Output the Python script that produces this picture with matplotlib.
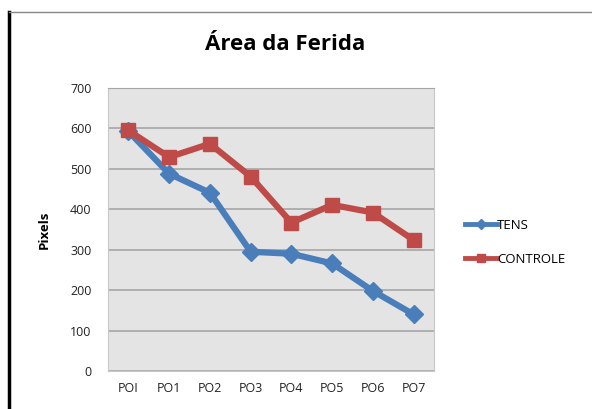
import matplotlib
matplotlib.use("Agg")
import matplotlib.pyplot as plt
from matplotlib.lines import Line2D

# wound area per post-op day
dias = ["POI", "PO1", "PO2", "PO3", "PO4", "PO5", "PO6", "PO7"]
tens = [593, 488, 441, 295, 290, 266, 198, 140]
controle = [595, 529, 562, 481, 367, 411, 392, 324]

plt.rcParams['font.family'] = ['Open Sans', 'DejaVu Sans']

fig = plt.figure(figsize=(5.92, 4.09), dpi=100)
ax = fig.add_axes([108/592, 1 - 371/409, 326/592, 283/409])
ax.set_facecolor("#e4e4e4")

x = range(len(dias))
ax.plot(x, tens, color="#4a7ebb", lw=4.5, marker="D", ms=9, label="TENS", zorder=3)
ax.plot(x, controle, color="#be4b48", lw=4.5, marker="s", ms=10, label="CONTROLE", zorder=3)

ax.set_xlim(-0.5, len(dias) - 0.5)
ax.set_ylim(0, 700)
ax.set_yticks(range(0, 701, 100))
ax.set_xticks(list(x))
ax.set_xticklabels(dias)
ax.yaxis.grid(True, color="#a6a6a6", lw=1.2)
ax.set_axisbelow(True)
ax.tick_params(length=0, labelsize=9, colors="#222222", pad=8)
ax.tick_params(axis="y", pad=12)
for s in ax.spines.values():
    s.set_color("#c8c8c8")
ax.spines["top"].set_color("#a6a6a6")

ax.set_ylabel("Pixels", fontsize=9.5, fontweight="bold", labelpad=14)
fig.text(285/592, 1 - 45/409, "Área da Ferida", ha="center", va="center",
         fontsize=16, fontweight="bold")

leg = ax.legend(loc="center left", bbox_to_anchor=(1.06, 0.455), frameon=False,
                fontsize=9.5, handlelength=2.4, labelspacing=1.6, handletextpad=0.0,
                markerscale=0.55)
for h in leg.legend_handles:
    h.set_linewidth(3.5)

# outer frame lines
fig.add_artist(Line2D([9/592, 9/592], [0, 1 - 12/409], color="black", lw=2.5))
fig.add_artist(Line2D([9/592, 1], [1 - 12/409, 1 - 12/409], color="#888888", lw=1))

fig.savefig("out.png", dpi=100)
